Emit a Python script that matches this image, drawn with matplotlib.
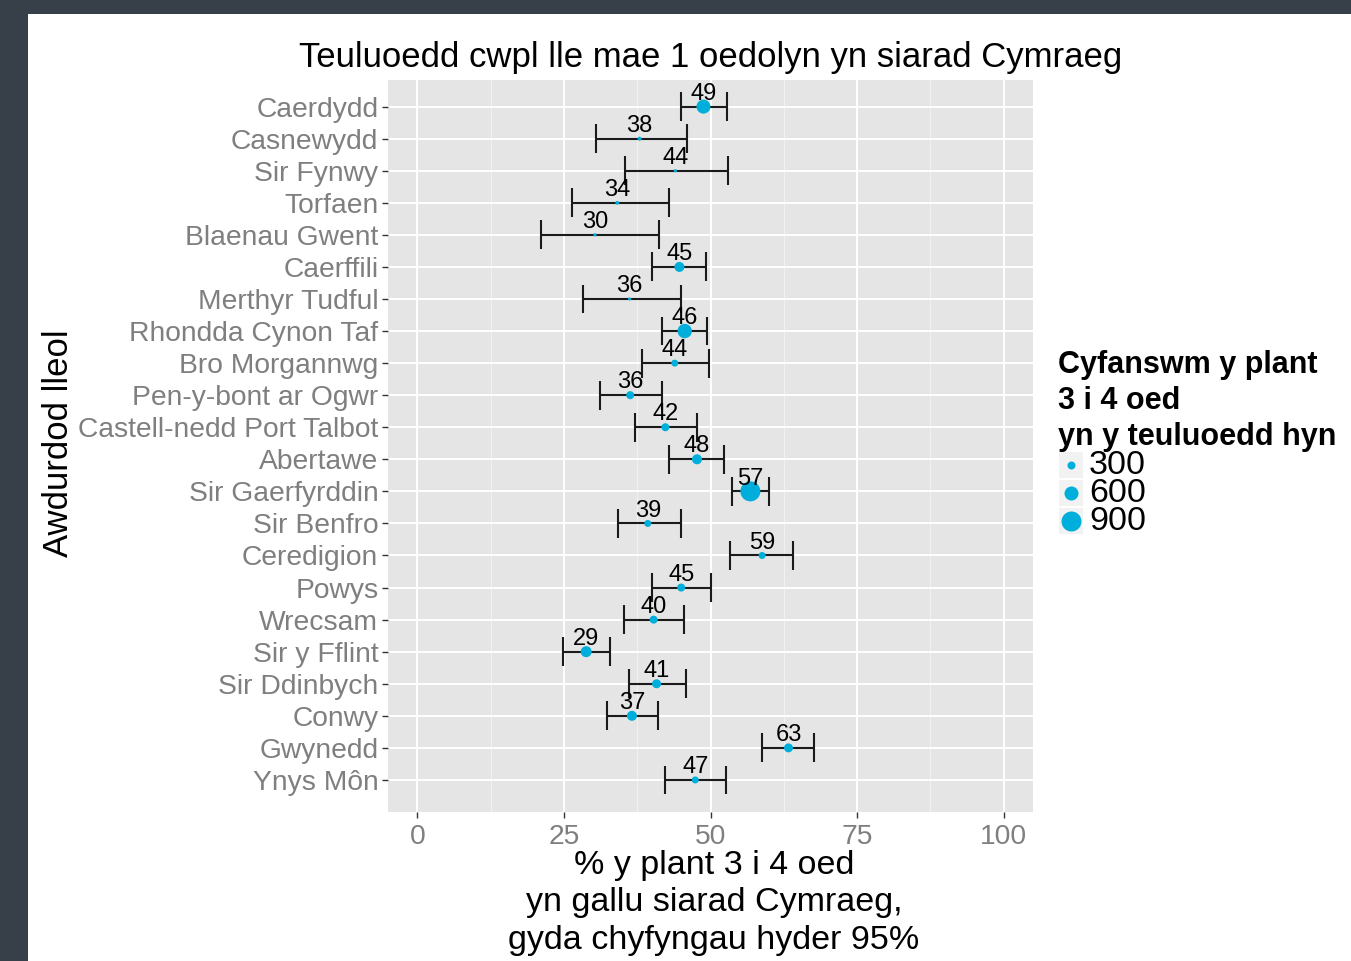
import matplotlib
matplotlib.use("Agg")
import matplotlib.pyplot as plt
from matplotlib.patches import Rectangle

# local authorities, top to bottom as in the chart
areas = ["Caerdydd", "Casnewydd", "Sir Fynwy", "Torfaen", "Blaenau Gwent",
         "Caerffili", "Merthyr Tudful", "Rhondda Cynon Taf", "Bro Morgannwg",
         "Pen-y-bont ar Ogwr", "Castell-nedd Port Talbot", "Abertawe",
         "Sir Gaerfyrddin", "Sir Benfro", "Ceredigion", "Powys", "Wrecsam",
         "Sir y Fflint", "Sir Ddinbych", "Conwy", "Gwynedd", "Ynys Môn"]

# % of children aged 3-4 able to speak Welsh, with 95% confidence limits
pct = [48.8, 37.9, 44.0, 34.1, 30.3, 44.7, 36.2, 45.6, 43.9, 36.3, 42.3,
       47.7, 56.8, 39.3, 58.8, 45.0, 40.3, 28.8, 40.8, 36.6, 63.3, 47.4]
lower = [45.0, 30.5, 35.4, 26.3, 21.1, 40.0, 28.3, 41.7, 38.3, 31.2, 37.2,
         43.0, 53.6, 34.3, 53.4, 40.0, 35.3, 24.9, 36.1, 32.3, 58.7, 42.2]
upper = [52.8, 46.0, 53.0, 43.0, 41.3, 49.2, 45.0, 49.4, 49.7, 41.7, 47.7,
         52.3, 60.0, 45.0, 64.0, 50.1, 45.5, 32.8, 45.8, 41.1, 67.7, 52.7]
# total children aged 3-4 in these families (point size)
children = [600, 100, 60, 90, 60, 400, 60, 620, 250, 300, 300,
            400, 900, 250, 250, 300, 300, 450, 350, 400, 350, 250]

legend_sizes = [300, 600, 900]

title = "Teuluoedd cwpl lle mae 1 oedolyn yn siarad Cymraeg"
xlabel = "% y plant 3 i 4 oed\nyn gallu siarad Cymraeg,\ngyda chyfyngau hyder 95%"
ylabel = "Awdurdod lleol"
legend_title = "Cyfanswm y plant\n3 i 4 oed\nyn y teuluoedd hyn"

plt.rcParams['font.family'] = ['Liberation Sans', 'DejaVu Sans']

point_col = '#00AEDB'


def dot_size(n):
    d_px = 2 + n / 50.0
    return (d_px * 0.72) ** 2


W, H = 1351, 961
fig = plt.figure(figsize=(W / 100, H / 100), dpi=100)
fig.patch.set_facecolor('#373f48')
fig.patches.append(Rectangle((28 / W, 0), 1 - 28 / W, 1 - 14 / H,
                             transform=fig.transFigure, facecolor='white',
                             edgecolor='none', zorder=-10))

ax = fig.add_axes([388 / W, 1 - 812 / H, 645 / W, 732 / H])
ax.set_facecolor('#E5E5E5')
for s in ax.spines.values():
    s.set_visible(False)

n = len(areas)
ypos = [n - 1 - i for i in range(n)]

ax.set_xlim(-5, 105)
ax.set_ylim(-1.0, n - 1 + 0.83)
ax.set_xticks([0, 25, 50, 75, 100])
ax.set_xticks([12.5, 37.5, 62.5, 87.5], minor=True)
ax.set_yticks(ypos)
ax.set_yticklabels(areas)
ax.grid(which='major', color='white', linewidth=1.4)
ax.grid(which='minor', axis='x', color='#F2F2F2', linewidth=0.7)
ax.set_axisbelow(True)
ax.tick_params(which='major', length=4, width=1, color='#333333',
               labelcolor='#7F7F7F', labelsize=20.3, pad=3)
ax.tick_params(axis='x', pad=5)
ax.tick_params(which='minor', length=0)

# error bars
ax.hlines(ypos, lower, upper, color='#1a1a1a', linewidth=1.5, zorder=2)
ax.vlines(lower, [y - 0.45 for y in ypos], [y + 0.45 for y in ypos],
          color='#1a1a1a', linewidth=1.5, zorder=2)
ax.vlines(upper, [y - 0.45 for y in ypos], [y + 0.45 for y in ypos],
          color='#1a1a1a', linewidth=1.5, zorder=2)

ax.scatter(pct, ypos, s=[dot_size(c) for c in children], color=point_col,
           linewidths=0, zorder=3)

for v, y in zip(pct, ypos):
    ax.text(v, y + 0.4, f"{v:.0f}", ha='center', va='center', fontsize=17,
            color='black', zorder=4)

fig.text(711 / W, 1 - 57 / H, title, ha='center', va='center', fontsize=25)
fig.text(714 / W, 1 - 903 / H, xlabel, ha='center', va='center',
         fontsize=24.5, linespacing=1.27)
fig.text(58 / W, 1 - 443 / H, ylabel, rotation=90, ha='center', va='center',
         fontsize=25)

# legend
fig.text(1058 / W, 1 - 401 / H, legend_title, ha='left', va='center',
         fontsize=22, fontweight='bold', linespacing=1.27)
lax = fig.add_axes([1058 / W, 1 - 535 / H, 25 / W, 84 / H])
lax.set_xlim(0, 1)
lax.set_ylim(0, 3)
lax.axis('off')
for i, v in enumerate(legend_sizes):
    k = 2 - i
    lax.add_patch(Rectangle((0.02, k + 0.03), 0.96, 0.94,
                            facecolor='#F2F2F2', edgecolor='none'))
    lax.scatter([0.5], [k + 0.5], s=dot_size(v), color=point_col,
                linewidths=0, clip_on=False)
    fig.text(1089 / W, 1 - (466 + 28 * i) / H, str(v), ha='left',
             va='center', fontsize=24.5)

fig.savefig('out.png', dpi=100, facecolor=fig.get_facecolor())
